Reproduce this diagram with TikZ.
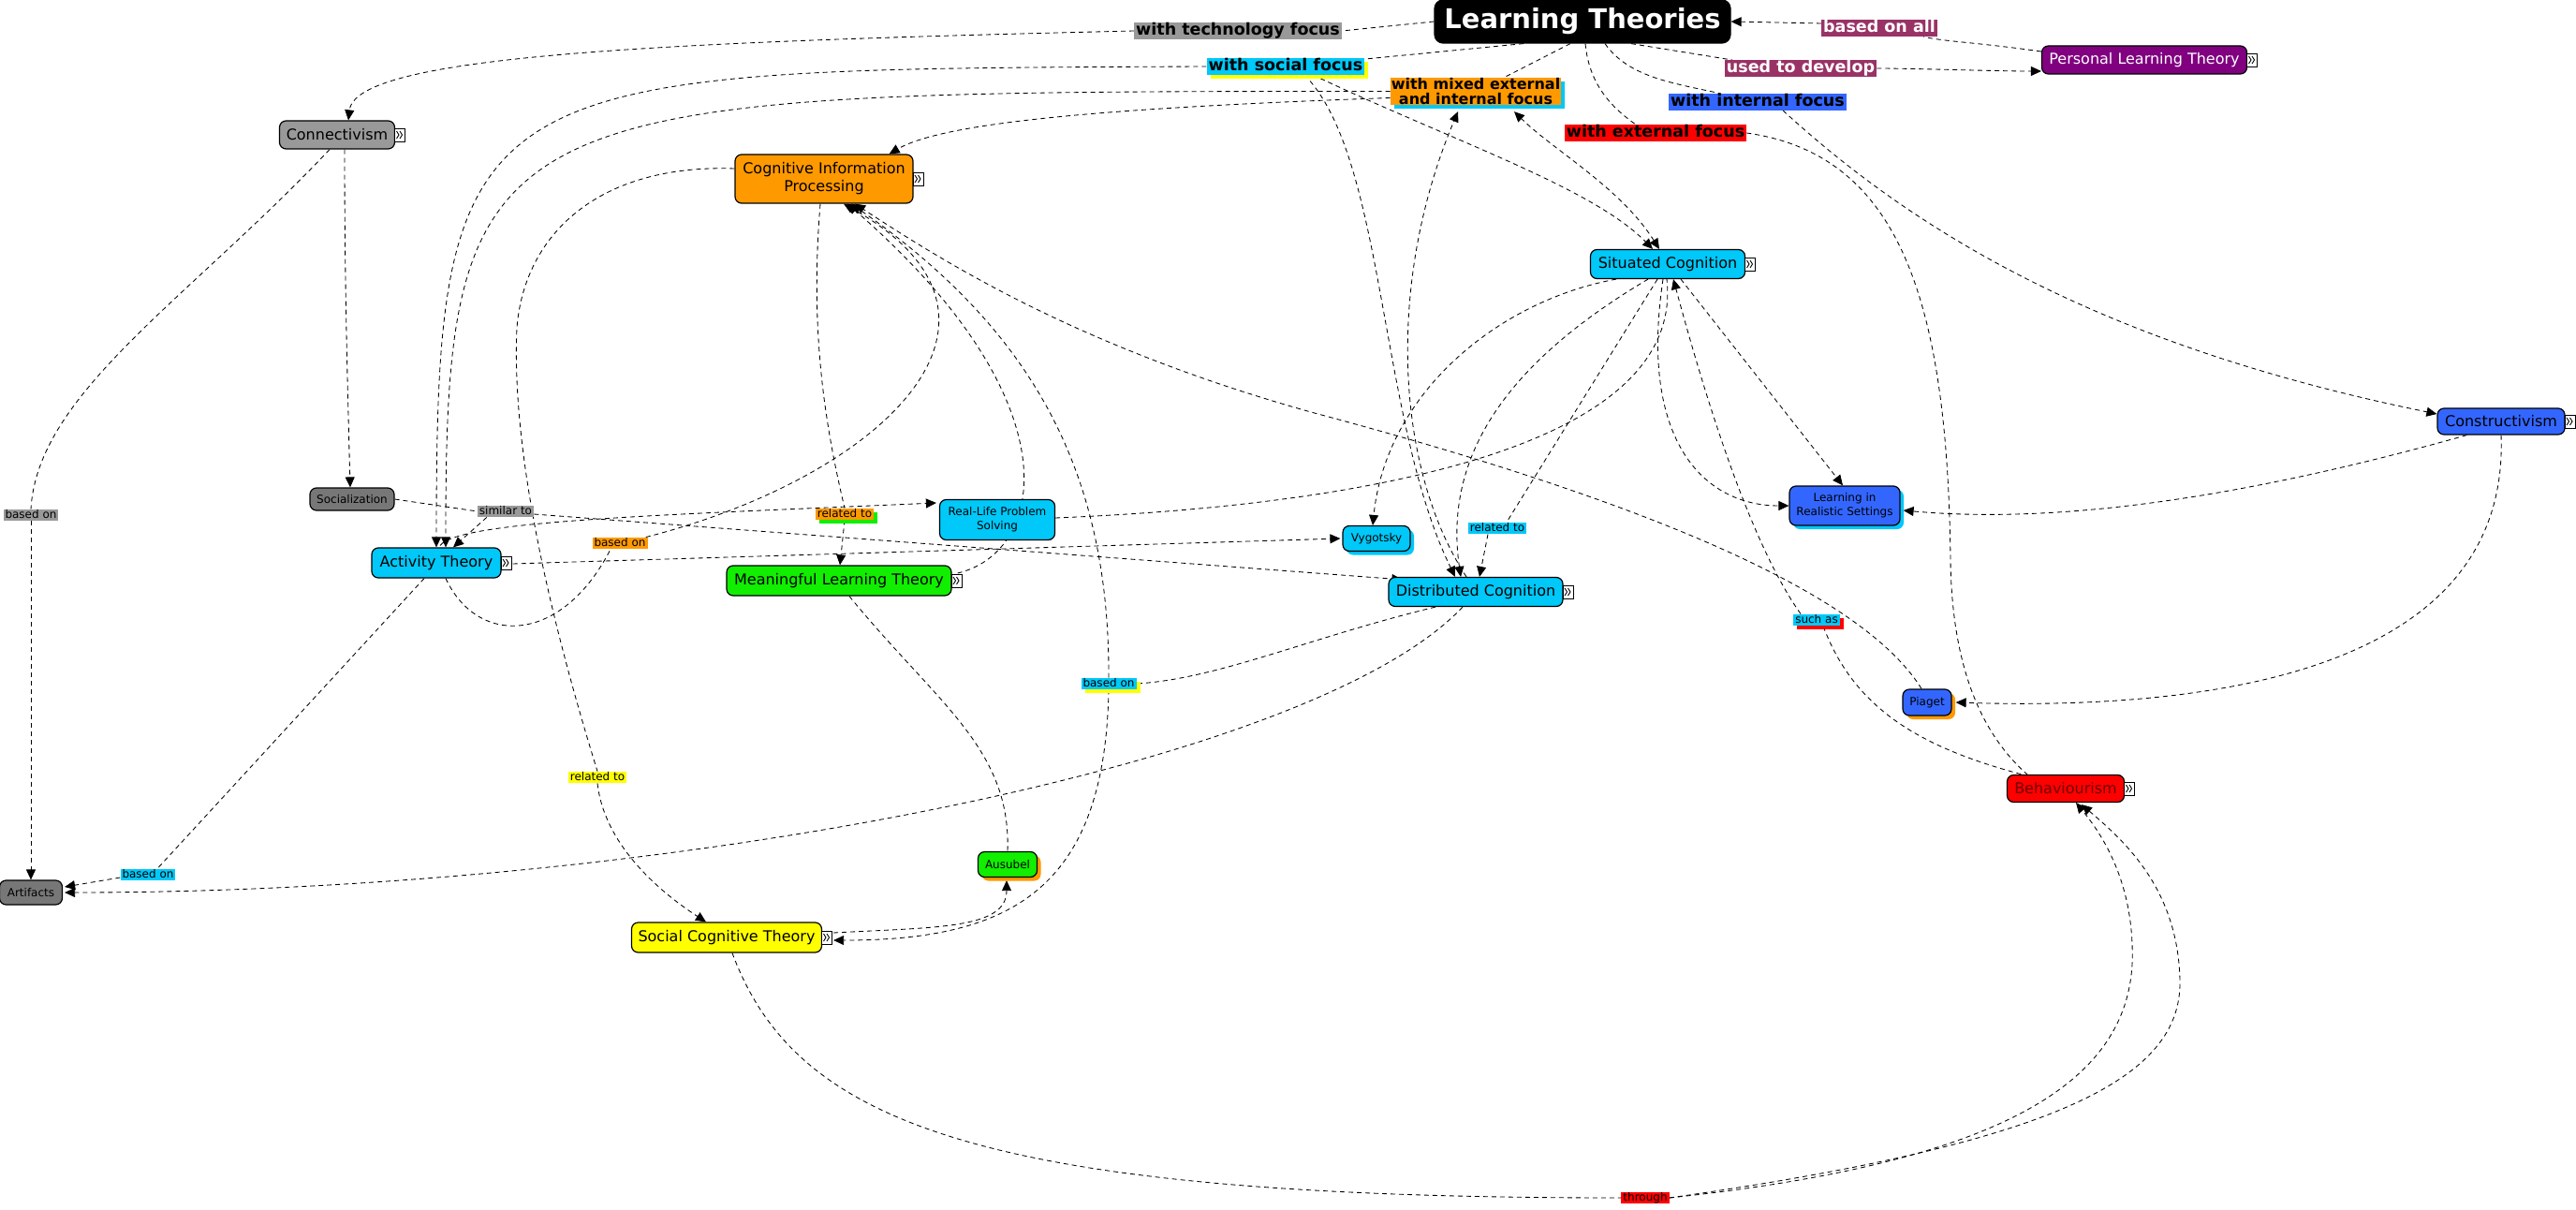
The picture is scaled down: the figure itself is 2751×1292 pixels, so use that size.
\documentclass[tikz,border=0pt]{standalone}
\usepackage{fontspec}
\setmainfont{DejaVu Sans}
\usetikzlibrary{arrows.meta,shadows,calc}
\pgfdeclarelayer{backl}
\pgfdeclarelayer{bgl}
\pgfsetlayers{backl,bgl,main}
\definecolor{ccyan}{RGB}{0,200,248}
\definecolor{cblue}{RGB}{51,102,255}
\definecolor{corange}{RGB}{255,153,0}
\definecolor{cgreen}{RGB}{17,238,0}
\definecolor{cyellow}{RGB}{255,255,0}
\definecolor{cred}{RGB}{255,0,0}
\definecolor{cgrayA}{RGB}{153,153,153}
\definecolor{cgrayB}{RGB}{119,119,119}
\definecolor{cmaroon}{RGB}{153,51,102}
\definecolor{cpurple}{RGB}{128,0,128}
\definecolor{cdarkred}{RGB}{110,0,0}
\tikzset{
 concept/.style={draw=black, line width=1.2pt, rounded corners=7pt, inner sep=2pt, align=center, font=\fontsize{16}{19}\selectfont},
 smallc/.style={concept, font=\fontsize{12}{15}\selectfont},
 lab/.style={inner xsep=2pt, inner ysep=0.5pt, text height=9pt, text depth=2.5pt, font=\fontsize{12}{14}\selectfont},
 blab/.style={inner xsep=2pt, inner ysep=0.5pt, text height=13pt, text depth=3.5pt, font=\bfseries\fontsize{17.5}{20}\selectfont},
 link/.style={draw=black, line width=0.85pt, dash pattern=on 5pt off 4pt},
 arr/.style={arrows={-Triangle[length=11pt,width=10pt]}},
 darr/.style={arrows={Triangle[length=11pt,width=10pt]-Triangle[length=11pt,width=10pt]}},
 icon/.style={draw=black, fill=white, line width=0.8pt, inner sep=0pt, minimum width=11pt, minimum height=14pt, anchor=west,
   path picture={
     \draw[line width=0.9pt] ([xshift=-3.5pt,yshift=4pt]path picture bounding box.center) -- ++(2.5pt,-4pt) -- ++(-2.5pt,-4pt);
     \draw[line width=0.9pt] ([xshift=0pt,yshift=4pt]path picture bounding box.center) -- ++(2.5pt,-4pt) -- ++(-2.5pt,-4pt);
   }},
 shad/.style={drop shadow={shadow xshift=4pt, shadow yshift=-4pt, opacity=1, fill=#1}},
}
\begin{document}
\begin{tikzpicture}[x=1pt,y=-1pt]
\begin{pgfonlayer}{backl}
\fill[white] (0,0) rectangle (2751,1292);
\end{pgfonlayer}
\useasboundingbox (0,0) rectangle (2751,1292);

% ---------- nodes ----------
\node[concept, fill=black, text=white, font=\bfseries\fontsize{29}{34}\selectfont, minimum width=316pt, minimum height=46pt, rounded corners=9pt] (lt) at (1690,23) {Learning Theories};
\node[blab, fill=cgrayA] (ltech) at (1322,33) {with technology focus};
\node[blab, fill=cmaroon, text=white] (lall) at (2007,30) {based on all};
\node[concept, fill=cpurple, text=white, minimum width=219pt, minimum height=30pt] (plt) at (2290,64) {Personal Learning Theory};
\node[blab, fill=cmaroon, text=white] (lused) at (1923,73) {used to develop};
\node[blab, fill=ccyan, shad=cyellow] (lsocial) at (1373,71) {with social focus};
\node[fill=corange, shad=ccyan, inner xsep=1pt, inner ysep=0.5pt, align=center, font=\bfseries\fontsize{16}{15.5}\selectfont] (lmixed) at (1576,97.5) {with mixed external\\and internal focus};
\node[blab, fill=cblue] (lint) at (1877,109) {with internal focus};
\node[blab, fill=cred] (lext) at (1768,142) {with external focus};
\node[concept, fill=cgrayA, minimum width=123pt, minimum height=30pt] (conn) at (360,144) {Connectivism};
\node[concept, fill=corange, minimum width=190pt, minimum height=52pt] (cip) at (880,191) {Cognitive Information\\Processing};
\node[concept, fill=ccyan, minimum width=165pt, minimum height=31pt] (sc) at (1781,282) {Situated Cognition};
\node[smallc, fill=cblue, shad=ccyan, minimum width=118pt, minimum height=42pt] (lirs) at (1970,540) {Learning in\\Realistic Settings};
\node[concept, fill=cblue, minimum width=136pt, minimum height=28pt] (cons) at (2671,450) {Constructivism};
\node[smallc, fill=cgrayB, minimum width=90pt, minimum height=24pt] (soc) at (376,533) {Socialization};
\node[lab, fill=cgrayA] (lsim) at (540,546) {similar to};
\node[concept, fill=ccyan, minimum width=138pt, minimum height=32pt] (actt) at (466,601) {Activity Theory};
\node[lab, fill=corange] (lbased1) at (662,580) {based on};
\node[lab, fill=corange, shad=cgreen] (lrel1) at (902,549) {related to};
\node[concept, fill=cgreen, minimum width=240pt, minimum height=32pt] (mlt) at (896,620) {Meaningful Learning Theory};
\node[smallc, fill=ccyan, minimum width=123pt, minimum height=43pt] (rlps) at (1065,555) {Real-Life Problem\\Solving};
\node[smallc, fill=ccyan, shad=ccyan, minimum width=72pt, minimum height=27pt] (vyg) at (1470,575) {Vygotsky};
\node[lab, fill=ccyan] (lrel2) at (1599,564) {related to};
\node[concept, fill=ccyan, minimum width=186pt, minimum height=31pt] (dc) at (1576,632) {Distributed Cognition};
\node[lab, fill=ccyan, shad=cyellow] (lbased2) at (1184,730) {based on};
\node[lab, fill=ccyan, shad=cred] (lsuch) at (1940,662) {such as};
\node[smallc, fill=cblue, shad=corange, minimum width=52pt, minimum height=28pt] (piaget) at (2058,750) {Piaget};
\node[concept, fill=cred, text=cdarkred, minimum width=125pt, minimum height=29pt] (beh) at (2206,842) {Behaviourism};
\node[smallc, fill=cgrayB, minimum width=67pt, minimum height=26pt] (art) at (33,953) {Artifacts};
\node[lab, fill=ccyan] (lbased3) at (158,934) {based on};
\node[smallc, fill=cgreen, shad=corange, minimum width=63pt, minimum height=27pt] (aus) at (1076,923) {Ausubel};
\node[concept, fill=cyellow, minimum width=203pt, minimum height=32pt] (sct) at (776,1001) {Social Cognitive Theory};
\node[lab, fill=cgrayA] (lbased4) at (33,550) {based on};
\node[lab, fill=cyellow] (lrel3) at (638,830) {related to};
\node[lab, fill=cred] (lthrough) at (1757,1279) {through};

\foreach \n in {plt,conn,cip,sc,cons,actt,mlt,dc,beh,sct}
  \node[icon] (i\n) at ($(\n.east)+(-1,0)$) {};

% ---------- connectors ----------
\begin{pgfonlayer}{bgl}
% Learning Theories to its labels
\draw[link] (lt.west) -- (ltech.east);
\draw[link] ($(lt.south)+(-63,0)$) -- ($(lsocial.north east)+(0,1)$);
\draw[link] ($(lt.south)+(-13,0)$) -- ($(lmixed.north)+(30,0)$);
\draw[link] ($(lt.south)+(3,0)$) .. controls +(4,43) and +(-27,-19) .. ($(lext.north)+(-21,0)$);
\draw[link] ($(lt.south)+(24,0)$) .. controls +(26,37) and +(-48,-11) .. ($(lint.north)+(-39,0)$);
\draw[link] ($(lt.south)+(52,0)$) -- ($(lused.north)+(-73,0)$);
\draw[link,arr] (lused.east) .. controls +(40,0) and +(-50,0) .. ($(plt.west)+(0,12)$);
\draw[link] ($(plt.west)+(0,-9)$) .. controls +(-70,-10) and +(16,5) .. ($(lall.south)+(47,0)$);
\draw[link,arr] ($(lall.west)+(0,-5)$) -- (lt.east);
% technology focus
\draw[link,arr] (ltech.west) .. controls +(-511,12) and +(8,-69) .. ($(conn.north)+(12,0)$);
% social focus
\draw[link,arr] (lsocial.west) .. controls +(-789,3) and +(0,-511) .. (actt.north);
\draw[link,arr] ($(lsocial.south)+(20,0)$) .. controls +(87,88) and +(-82,-167) .. ($(dc.north)+(-22,0)$);
\draw[link,arr] ($(lsocial.south)+(29,0)$) .. controls +(148,70) and +(-65,-66) .. ($(sc.north)+(-16,0)$);
% mixed focus
\draw[link,arr] (lmixed.west) .. controls +(-965,0) and +(0,-485) .. ($(actt.north)+(10,0)$);
\draw[link,arr] ($(lmixed.west)+(0,7)$) .. controls +(-285,10) and +(60,-35) .. ($(cip.north east)+(-26,0)$);
\draw[link,arr] ($(dc.north)+(-10,0)$) .. controls +(-76,-116) and +(-77,182) .. ($(lmixed.south)+(-19,7)$);
\draw[link,darr] ($(sc.north)+(-9,0)$) .. controls +(-42,-66) and +(43,42) .. ($(lmixed.south)+(41,7)$);
% situated cognition
\draw[link,arr] ($(sc.south)+(-55,0)$) .. controls +(-126,23) and +(14,-141) .. ($(vyg.north)+(-4,0)$);
\draw[link,arr] ($(sc.south)+(-21,0)$) .. controls +(-140,83) and +(-20,-137) .. ($(dc.north)+(-16,0)$);
\draw[link] ($(sc.south)+(-11,0)$) -- ($(lrel2.north)+(10,0)$);
\draw[link,arr] ($(lrel2.south)+(-10,0)$) -- ($(dc.north)+(4,0)$);
\draw[link] ($(rlps.east)+(0,-2)$) .. controls +(322,-13) and +(20,182) .. ($(sc.south)+(-1,0)$);
\draw[link,arr] ($(sc.south)+(14,0)$) -- ($(lirs.north)+(-2,0)$);
\draw[link,arr] ($(sc.south)+(-5,0)$) .. controls +(-26,172) and +(-91,0) .. (lirs.west);
% constructivism
\draw[link,arr] ($(cons.south west)+(32,0)$) .. controls +(-235,66) and +(168,15) .. ($(lirs.east)+(3,5)$);
\draw[link,arr] (cons.south) .. controls +(9,236) and +(312,10) .. ($(piaget.east)+(4,0)$);
\draw[link,arr] ($(lint.south east)+(-68,0)$) .. controls +(145,133) and +(-353,-72) .. ($(cons.west)+(0,-8)$);
% behaviourism
\draw[link] (lext.east) .. controls +(163,23) and +(-3,-280) .. (2083,600) .. controls +(2,120) and +(-45,-40) .. ($(beh.north west)+(22,0)$);
\draw[link] ($(beh.north west)+(24,2)$) .. controls +(-117,-30) and +(33,88) .. ($(lsuch.south)+(7,0)$);
\draw[link,arr] ($(lsuch.north west)+(8,0)$) .. controls +(-55,-77) and +(33,122) .. ($(sc.south)+(6,0)$);
% piaget to cip
\draw[link,arr] ($(piaget.north)+(-6,0)$) .. controls +(-72,-116) and +(300,80) .. (1400,440) .. controls +(-250,-70) and +(95,62) .. ($(cip.south)+(33,0)$);
% cip related
\draw[link] ($(cip.south)+(-4,0)$) .. controls +(-11,133) and +(-22,-93) .. (lrel1.north);
\draw[link,arr] (lrel1.south) -- ($(mlt.north)+(1,0)$);
\draw[link,arr] ($(lbased1.north east)+(-2,0)$) .. controls +(251,-64) and +(219,123) .. ($(cip.south)+(21,0)$);
\draw[link] ($(actt.south)+(10,0)$) .. controls +(34,73) and +(-52,102) .. ($(lbased1.south)+(-10,0)$);
\draw[link,arr] ($(mlt.east)+(6,-8)$) .. controls +(94,-22) and +(245,213) .. ($(cip.south)+(25,0)$);
\draw[link,arr] (lbased2.north) .. controls +(1,-223) and +(191,133) .. ($(cip.south)+(29,0)$);
\draw[link,arr] (lbased2.south) .. controls +(-4,213) and +(190,0) .. ($(sct.east)+(12,3)$);
\draw[link] ($(dc.south)+(-43,0)$) .. controls +(-133,32) and +(87,-5) .. (lbased2.east);
\draw[link,arr] ($(dc.south)+(-14,0)$) .. controls +(-162,172) and +(631,0) .. ($(art.east)+(2,0)$);
% activity theory
\draw[link] ($(actt.south)+(-13,0)$) -- ($(lbased3.north)+(10,0)$);
\draw[link,arr] ($(lbased3.west)+(0,3)$) -- ($(art.east)+(2,-6)$);
\draw[link,arr] ($(actt.north)+(4,-2)$) .. controls +(20,-26) and +(-300,13) .. ($(rlps.west)+(-3,-18)$);
\draw[link,arr] ($(actt.east)+(12,1)$) -- ($(vyg.west)+(-2,0)$);
% connectivism
\draw[link,arr] ($(conn.south)+(8,0)$) .. controls +(0,120) and +(-4,-150) .. ($(soc.north)+(-2,0)$);
\draw[link] ($(conn.south)+(-8,0)$) .. controls +(-152,161) and +(7,-123) .. (lbased4.north);
\draw[link,arr] (lbased4.south) -- (art.north);
% socialization
\draw[link] (soc.east) -- (lsim.west);
\draw[link,arr] ($(lsim.south west)+(10,0)$) -- ($(actt.north)+(18,0)$);
\draw[link,arr] ($(lsim.east)+(0,3)$) -- ($(dc.north west)+(15,3)$);
% cip to social cognitive theory
\draw[link] ($(cip.west)+(0,-11)$) .. controls +(-145,-5) and +(8,-100) .. (552,350) .. controls +(-7,150) and +(-38,-123) .. (lrel3.north);
\draw[link,arr] (lrel3.south) .. controls +(7,63) and +(-54,-35) .. ($(sct.north)+(-22,0)$);
% social cognitive theory
\draw[link,arr] ($(sct.east)+(12,-5)$) .. controls +(110,-6) and +(0,52) .. ($(aus.south)+(-1,3)$);
\draw[link] ($(mlt.south)+(11,0)$) .. controls +(93,114) and +(4,-110) .. (aus.north);
\draw[link] ($(sct.south)+(6,0)$) .. controls +(68,183) and +(-683,0) .. (lthrough.west);
\draw[link,arr] (lthrough.east) .. controls +(368,-39) and +(-7,120) .. (2277,1030) .. controls +(3,-80) and +(33,40) .. ($(beh.south)+(11,0)$);
\draw[link,arr] (lthrough.east) .. controls +(418,-59) and +(2,103) .. (2328,1047) .. controls +(-2,-97) and +(47,40) .. ($(beh.south)+(17,2)$);
\end{pgfonlayer}
\end{tikzpicture}
\end{document}
